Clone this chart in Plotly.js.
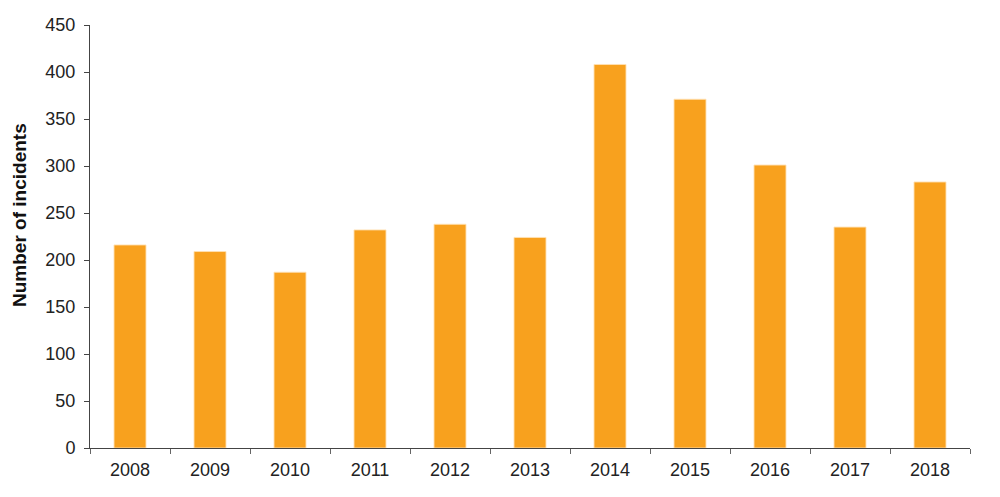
<!DOCTYPE html>
<html>
<head>
<meta charset="utf-8">
<script src="https://cdn.plot.ly/plotly-3.0.1.min.js"></script>
<style>html,body{margin:0;padding:0;background:#fff;}#chart{width:1000px;height:497px;}</style>
</head>
<body>
<div id="chart"></div>
<script>
var years = ['2008','2009','2010','2011','2012','2013','2014','2015','2016','2017','2018'];
var incidents = [216, 209, 187, 232, 238, 224, 408, 371, 301, 235, 283];
var yTicks = [0, 50, 100, 150, 200, 250, 300, 350, 400, 450];
var yTitle = 'Number of incidents';

var trace = {
  type: 'bar',
  x: years,
  y: incidents,
  marker: {color: '#F8A11E', line: {color: 'rgba(255,225,180,0.9)', width: 1}},
  width: 0.4,
  hoverinfo: 'x+y'
};

var layout = {
  width: 1000,
  height: 497,
  margin: {l: 90, r: 30, t: 25, b: 49},
  paper_bgcolor: '#fff',
  plot_bgcolor: '#fff',
  font: {family: 'Liberation Sans, Arial, sans-serif', size: 18, color: '#222'},
  showlegend: false,
  xaxis: {
    type: 'category',
    showline: true,
    linecolor: '#444',
    linewidth: 1,
    ticks: 'outside',
    tickson: 'boundaries',
    ticklen: 5,
    tickcolor: '#666',
    ticklabelstandoff: 5,
    showgrid: false,
    tickfont: {size: 18, color: '#222'},
    fixedrange: true
  },
  yaxis: {
    range: [0, 450],
    tickvals: yTicks,
    showline: true,
    linecolor: '#444',
    linewidth: 1,
    ticks: 'outside',
    ticklen: 5,
    tickcolor: '#444',
    ticklabelstandoff: 5,
    showgrid: false,
    zeroline: false,
    tickfont: {size: 18, color: '#222'},
    fixedrange: true
  },
  annotations: [{
    text: '<b>' + yTitle + '</b>',
    xref: 'paper', yref: 'paper',
    x: -0.0795, y: 0.551,
    xanchor: 'center', yanchor: 'middle',
    textangle: -90,
    showarrow: false,
    font: {size: 19, color: '#111', family: 'Liberation Sans, Arial, sans-serif'}
  }]
};

Plotly.newPlot('chart', [trace], layout, {displayModeBar: false, staticPlot: true});
</script>
</body>
</html>
